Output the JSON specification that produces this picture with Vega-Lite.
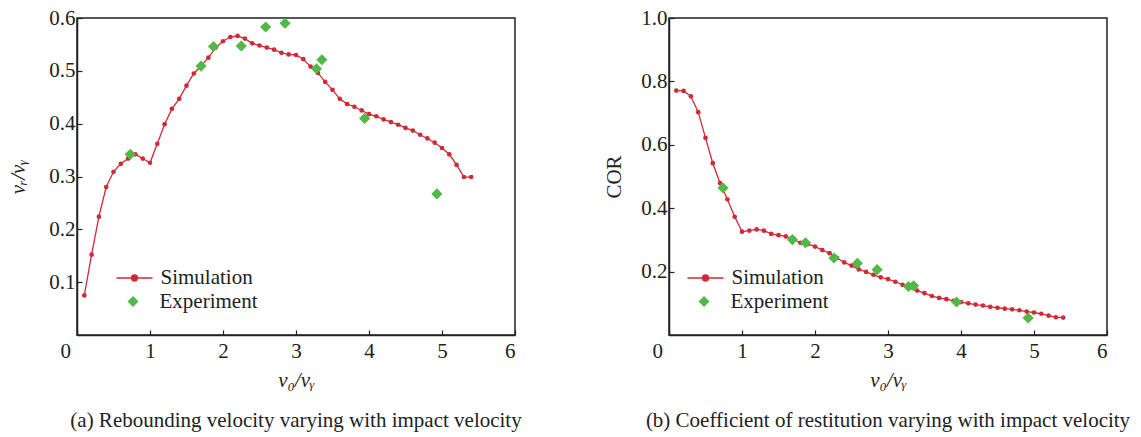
{
  "$schema": "https://vega.github.io/schema/vega-lite/v6.json",
  "background": "white",
  "padding": {"left": 7, "top": 6, "right": 5, "bottom": 5},
  "bounds": "flush",
  "spacing": 154,
  "config": {
    "font": "Liberation Serif, Times New Roman, serif",
    "view": {"stroke": "#222", "strokeWidth": 1.5},
    "axis": {
      "grid": false,
      "domainColor": "#222", "domainWidth": 1.5,
      "tickColor": "#222", "tickWidth": 1.2, "tickSize": -5,
      "labelFont": "Liberation Serif, Times New Roman, serif", "labelFontSize": 21, "labelColor": "#222",
      "titleFont": "Liberation Serif, Times New Roman, serif", "titleFontSize": 21, "titleFontWeight": "normal", "titleColor": "#222"
    },
    "axisX": {"labelPadding": 10, "titlePadding": 8, "format": "d"},
    "axisY": {"labelPadding": 7},
    "legend": {"labelFont": "Liberation Serif, Times New Roman, serif", "labelFontSize": 21, "labelColor": "#222", "padding": 0, "rowPadding": 0, "title": null},
    "title": {"font": "Liberation Serif, Times New Roman, serif", "fontSize": 21, "fontWeight": "normal", "color": "#222"}
  },
  "datasets": {
    "simL": [
      {"x":0.1,"y":0.075,"series":"Simulation"},{"x":0.2,"y":0.152,"series":"Simulation"},{"x":0.3,"y":0.224,"series":"Simulation"},{"x":0.4,"y":0.280,"series":"Simulation"},{"x":0.5,"y":0.309,"series":"Simulation"},{"x":0.6,"y":0.324,"series":"Simulation"},{"x":0.7,"y":0.334,"series":"Simulation"},{"x":0.8,"y":0.342,"series":"Simulation"},{"x":0.9,"y":0.334,"series":"Simulation"},{"x":1.0,"y":0.326,"series":"Simulation"},
      {"x":1.1,"y":0.362,"series":"Simulation"},{"x":1.2,"y":0.399,"series":"Simulation"},{"x":1.3,"y":0.428,"series":"Simulation"},{"x":1.4,"y":0.447,"series":"Simulation"},{"x":1.5,"y":0.472,"series":"Simulation"},{"x":1.6,"y":0.495,"series":"Simulation"},{"x":1.7,"y":0.509,"series":"Simulation"},{"x":1.8,"y":0.525,"series":"Simulation"},{"x":1.9,"y":0.544,"series":"Simulation"},{"x":2.0,"y":0.556,"series":"Simulation"},
      {"x":2.1,"y":0.564,"series":"Simulation"},{"x":2.2,"y":0.566,"series":"Simulation"},{"x":2.3,"y":0.561,"series":"Simulation"},{"x":2.4,"y":0.552,"series":"Simulation"},{"x":2.5,"y":0.548,"series":"Simulation"},{"x":2.6,"y":0.544,"series":"Simulation"},{"x":2.7,"y":0.540,"series":"Simulation"},{"x":2.8,"y":0.534,"series":"Simulation"},{"x":2.9,"y":0.531,"series":"Simulation"},{"x":3.0,"y":0.530,"series":"Simulation"},
      {"x":3.1,"y":0.522,"series":"Simulation"},{"x":3.2,"y":0.508,"series":"Simulation"},{"x":3.3,"y":0.496,"series":"Simulation"},{"x":3.4,"y":0.479,"series":"Simulation"},{"x":3.5,"y":0.464,"series":"Simulation"},{"x":3.6,"y":0.447,"series":"Simulation"},{"x":3.7,"y":0.437,"series":"Simulation"},{"x":3.8,"y":0.432,"series":"Simulation"},{"x":3.9,"y":0.425,"series":"Simulation"},{"x":4.0,"y":0.418,"series":"Simulation"},
      {"x":4.1,"y":0.414,"series":"Simulation"},{"x":4.2,"y":0.408,"series":"Simulation"},{"x":4.3,"y":0.403,"series":"Simulation"},{"x":4.4,"y":0.398,"series":"Simulation"},{"x":4.5,"y":0.392,"series":"Simulation"},{"x":4.6,"y":0.387,"series":"Simulation"},{"x":4.7,"y":0.379,"series":"Simulation"},{"x":4.8,"y":0.372,"series":"Simulation"},{"x":4.9,"y":0.364,"series":"Simulation"},{"x":5.0,"y":0.354,"series":"Simulation"},
      {"x":5.1,"y":0.342,"series":"Simulation"},{"x":5.2,"y":0.322,"series":"Simulation"},{"x":5.3,"y":0.299,"series":"Simulation"},{"x":5.4,"y":0.299,"series":"Simulation"}
    ],
    "expL": [
      {"x":0.73,"y":0.342,"series":"Experiment"},{"x":1.70,"y":0.509,"series":"Experiment"},{"x":1.87,"y":0.546,"series":"Experiment"},{"x":2.25,"y":0.547,"series":"Experiment"},{"x":2.585,"y":0.583,"series":"Experiment"},{"x":2.85,"y":0.590,"series":"Experiment"},{"x":3.28,"y":0.504,"series":"Experiment"},{"x":3.354,"y":0.521,"series":"Experiment"},{"x":3.94,"y":0.410,"series":"Experiment"},{"x":4.93,"y":0.267,"series":"Experiment"}
    ],
    "simR": [
      {"x":0.1,"y":0.771,"series":"Simulation"},{"x":0.2,"y":0.770,"series":"Simulation"},{"x":0.3,"y":0.753,"series":"Simulation"},{"x":0.4,"y":0.703,"series":"Simulation"},{"x":0.5,"y":0.622,"series":"Simulation"},{"x":0.6,"y":0.542,"series":"Simulation"},{"x":0.7,"y":0.479,"series":"Simulation"},{"x":0.8,"y":0.428,"series":"Simulation"},{"x":0.9,"y":0.373,"series":"Simulation"},{"x":1.0,"y":0.326,"series":"Simulation"},
      {"x":1.1,"y":0.329,"series":"Simulation"},{"x":1.2,"y":0.333,"series":"Simulation"},{"x":1.3,"y":0.329,"series":"Simulation"},{"x":1.4,"y":0.319,"series":"Simulation"},{"x":1.5,"y":0.315,"series":"Simulation"},{"x":1.6,"y":0.311,"series":"Simulation"},{"x":1.7,"y":0.302,"series":"Simulation"},{"x":1.8,"y":0.291,"series":"Simulation"},{"x":1.9,"y":0.287,"series":"Simulation"},{"x":2.0,"y":0.279,"series":"Simulation"},
      {"x":2.1,"y":0.268,"series":"Simulation"},{"x":2.2,"y":0.258,"series":"Simulation"},{"x":2.3,"y":0.243,"series":"Simulation"},{"x":2.4,"y":0.229,"series":"Simulation"},{"x":2.5,"y":0.219,"series":"Simulation"},{"x":2.6,"y":0.207,"series":"Simulation"},{"x":2.7,"y":0.199,"series":"Simulation"},{"x":2.8,"y":0.190,"series":"Simulation"},{"x":2.9,"y":0.182,"series":"Simulation"},{"x":3.0,"y":0.176,"series":"Simulation"},
      {"x":3.1,"y":0.168,"series":"Simulation"},{"x":3.2,"y":0.158,"series":"Simulation"},{"x":3.3,"y":0.149,"series":"Simulation"},{"x":3.4,"y":0.140,"series":"Simulation"},{"x":3.5,"y":0.132,"series":"Simulation"},{"x":3.6,"y":0.123,"series":"Simulation"},{"x":3.7,"y":0.117,"series":"Simulation"},{"x":3.8,"y":0.113,"series":"Simulation"},{"x":3.9,"y":0.108,"series":"Simulation"},{"x":4.0,"y":0.104,"series":"Simulation"},
      {"x":4.1,"y":0.100,"series":"Simulation"},{"x":4.2,"y":0.096,"series":"Simulation"},{"x":4.3,"y":0.093,"series":"Simulation"},{"x":4.4,"y":0.089,"series":"Simulation"},{"x":4.5,"y":0.086,"series":"Simulation"},{"x":4.6,"y":0.083,"series":"Simulation"},{"x":4.7,"y":0.081,"series":"Simulation"},{"x":4.8,"y":0.078,"series":"Simulation"},{"x":4.9,"y":0.074,"series":"Simulation"},{"x":5.0,"y":0.071,"series":"Simulation"},
      {"x":5.1,"y":0.067,"series":"Simulation"},{"x":5.2,"y":0.061,"series":"Simulation"},{"x":5.3,"y":0.056,"series":"Simulation"},{"x":5.4,"y":0.055,"series":"Simulation"}
    ],
    "expR": [
      {"x":0.74,"y":0.464,"series":"Experiment"},{"x":1.69,"y":0.301,"series":"Experiment"},{"x":1.87,"y":0.291,"series":"Experiment"},{"x":2.26,"y":0.243,"series":"Experiment"},{"x":2.58,"y":0.226,"series":"Experiment"},{"x":2.85,"y":0.206,"series":"Experiment"},{"x":3.28,"y":0.153,"series":"Experiment"},{"x":3.35,"y":0.155,"series":"Experiment"},{"x":3.94,"y":0.104,"series":"Experiment"},{"x":4.92,"y":0.054,"series":"Experiment"}
    ]
  },
  "resolve": {"scale": {"color": "independent", "shape": "independent"}, "legend": {"color": "independent", "shape": "independent"}},
  "hconcat": [
    {
      "width": 438, "height": 317,
      "title": {"text": "(a) Rebounding velocity varying with impact velocity", "orient": "bottom", "anchor": "middle", "offset": 20},
      "layer": [
        {
          "data": {"name": "simL"},
          "mark": {"type": "line", "color": "#cf2a36", "strokeWidth": 1.3},
          "encoding": {
            "x": {"field": "x", "type": "quantitative", "scale": {"domain": [0, 6], "nice": false},
              "axis": {"title": "v₀/vᵧ", "titleFontStyle": "italic", "values": [0,1,2,3,4,5,6],
                "labelOffset": {"condition": {"test": "datum.value === 0", "value": -17}, "value": 0}}},
            "y": {"field": "y", "type": "quantitative", "scale": {"domain": [0, 0.6], "nice": false},
              "axis": {"title": "vᵣ/vᵧ", "titleFontStyle": "italic", "titlePadding": 20, "values": [0.1,0.2,0.3,0.4,0.5,0.6], "format": ".1f"}}
          }
        },
        {
          "data": {"name": "simL"},
          "mark": {"type": "point", "shape": "circle", "filled": true, "size": 22, "opacity": 1},
          "encoding": {
            "x": {"field": "x", "type": "quantitative"},
            "y": {"field": "y", "type": "quantitative"},
            "color": {"field": "series", "type": "nominal",
              "scale": {"domain": ["Simulation"], "range": ["#cf2a36"]},
              "legend": {"orient": "none", "legendX": 44.5, "legendY": 247, "symbolSize": 576, "labelOffset": 13,
                "symbolType": "M-1.5,0H1.5M-0.25,0A0.25,0.25 0 1,1 0.25,0A0.25,0.25 0 1,1 -0.25,0Z",
                "symbolStrokeColor": "#cf2a36", "symbolStrokeWidth": 1.3, "symbolOpacity": 1}}
          }
        },
        {
          "data": {"name": "expL"},
          "mark": {"type": "point", "filled": true, "size": 125, "opacity": 1, "color": "#52b848"},
          "encoding": {
            "x": {"field": "x", "type": "quantitative"},
            "y": {"field": "y", "type": "quantitative"},
            "shape": {"field": "series", "type": "nominal",
              "scale": {"domain": ["Experiment"], "range": ["diamond"]},
              "legend": {"orient": "none", "legendX": 45.5, "legendY": 273, "symbolSize": 121, "labelOffset": 16,
                "symbolFillColor": "#52b848", "symbolStrokeColor": "#52b848", "symbolStrokeWidth": 0, "symbolOpacity": 1}}
          }
        }
      ]
    },
    {
      "width": 438, "height": 317,
      "title": {"text": "(b) Coefficient of restitution varying with impact velocity", "orient": "bottom", "anchor": "middle", "offset": 20},
      "layer": [
        {
          "data": {"name": "simR"},
          "mark": {"type": "line", "color": "#cf2a36", "strokeWidth": 1.3},
          "encoding": {
            "x": {"field": "x", "type": "quantitative", "scale": {"domain": [0, 6], "nice": false},
              "axis": {"title": "v₀/vᵧ", "titleFontStyle": "italic", "values": [0,1,2,3,4,5,6],
                "labelOffset": {"condition": {"test": "datum.value === 0", "value": -17}, "value": 0}}},
            "y": {"field": "y", "type": "quantitative", "scale": {"domain": [0, 1], "nice": false},
              "axis": {"title": "COR", "titlePadding": 16, "values": [0.2,0.4,0.6,0.8,1.0], "format": ".1f"}}
          }
        },
        {
          "data": {"name": "simR"},
          "mark": {"type": "point", "shape": "circle", "filled": true, "size": 22, "opacity": 1},
          "encoding": {
            "x": {"field": "x", "type": "quantitative"},
            "y": {"field": "y", "type": "quantitative"},
            "color": {"field": "series", "type": "nominal",
              "scale": {"domain": ["Simulation"], "range": ["#cf2a36"]},
              "legend": {"orient": "none", "legendX": 23.5, "legendY": 247, "symbolSize": 576, "labelOffset": 13,
                "symbolType": "M-1.5,0H1.5M-0.25,0A0.25,0.25 0 1,1 0.25,0A0.25,0.25 0 1,1 -0.25,0Z",
                "symbolStrokeColor": "#cf2a36", "symbolStrokeWidth": 1.3, "symbolOpacity": 1}}
          }
        },
        {
          "data": {"name": "expR"},
          "mark": {"type": "point", "filled": true, "size": 125, "opacity": 1, "color": "#52b848"},
          "encoding": {
            "x": {"field": "x", "type": "quantitative"},
            "y": {"field": "y", "type": "quantitative"},
            "shape": {"field": "series", "type": "nominal",
              "scale": {"domain": ["Experiment"], "range": ["diamond"]},
              "legend": {"orient": "none", "legendX": 24.5, "legendY": 273, "symbolSize": 121, "labelOffset": 16,
                "symbolFillColor": "#52b848", "symbolStrokeColor": "#52b848", "symbolStrokeWidth": 0, "symbolOpacity": 1}}
          }
        }
      ]
    }
  ]
}
